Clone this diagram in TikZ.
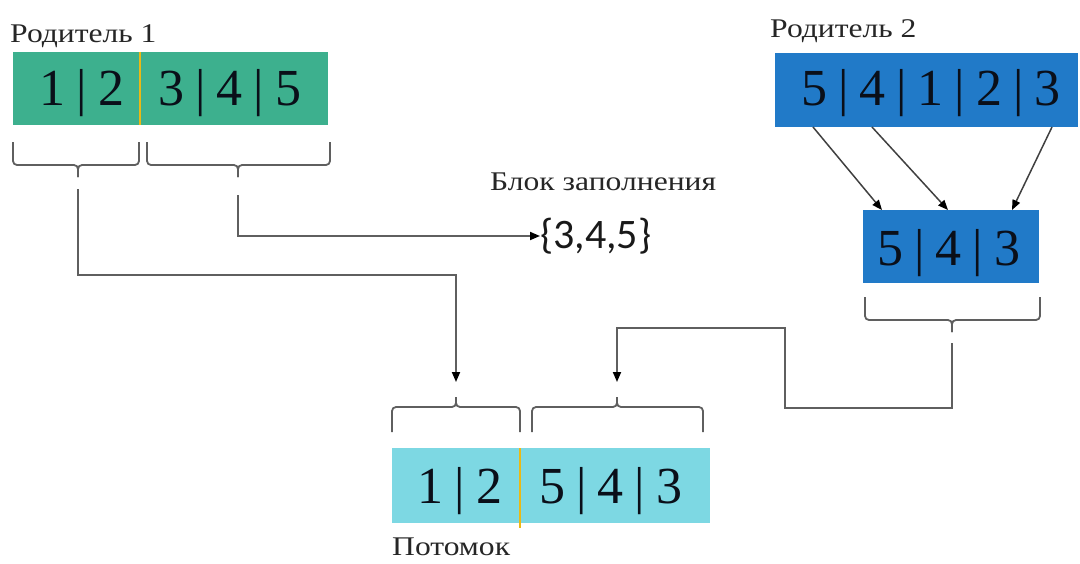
\documentclass[tikz,border=0pt]{standalone}
\usepackage{fontspec}
\setmainfont{Liberation Serif}
\newfontfamily\calib{Carlito}
\newfontfamily\widefont[FakeStretch=1.17]{Liberation Serif}
\usetikzlibrary{arrows.meta}
\definecolor{pgreen}{RGB}{61,176,142}
\definecolor{pblue}{RGB}{33,122,200}
\definecolor{pcyan}{RGB}{125,216,227}
\definecolor{pyellow}{RGB}{235,185,20}
\definecolor{lgray}{RGB}{95,95,95}
\definecolor{dtext}{RGB}{10,15,25}
\newcommand\sep{\hspace{0.21em}|\hspace{0.21em}}
\begin{document}
\begin{tikzpicture}[x=1pt,y=-1pt,
  boxnode/.style={draw=none, inner sep=0pt, outer sep=0pt},
  digits/.style={anchor=base, inner sep=0pt, text=dtext, font=\fontsize{52}{60}\selectfont},
  lbl/.style={anchor=base west, inner sep=0pt, text=black!85, font=\widefont\fontsize{27}{30}\selectfont},
  divider/.style={draw=pyellow, line width=2.5pt},
  brc/.style={draw=lgray, line width=1.8pt, rounded corners=4pt},
  conn/.style={draw=lgray, line width=1.8pt, -{Triangle[length=10pt,width=8pt,color=black]}},
  diag/.style={draw=black!75, line width=1.5pt, -{Triangle[length=10pt,width=8pt,color=black]}}]
\useasboundingbox (0,0) rectangle (1080,563);

% boxes
\node[boxnode, fill=pgreen, minimum width=315pt, minimum height=73pt] (p1) at (170.5,88.5) {};
\node[boxnode, fill=pblue, minimum width=303pt, minimum height=74pt] (p2) at (926.5,90) {};
\node[boxnode, fill=pblue, minimum width=176pt, minimum height=73pt] (c) at (951,246.5) {};
\node[boxnode, fill=pcyan, minimum width=318pt, minimum height=75pt] (o) at (551,485.5) {};

% dividers
\draw[divider] (140,52) -- (140,125);
\draw[divider] (520,448) -- (520,528);

% digits
\node[digits] (p1a) at (82,105) {1\sep 2};
\node[digits] (p1b) at (230,105) {3\sep 4\sep 5};
\node[digits] (p2t) at (931,105) {5\sep 4\sep 1\sep 2\sep 3};
\node[digits] (ct) at (949,265) {5\sep 4\sep 3};
\node[digits] (oa) at (460,503) {1\sep 2};
\node[digits] (ob) at (611,503) {5\sep 4\sep 3};

% labels
\node[lbl] (l1) at (10,42) {Родитель 1};
\node[lbl] (l2) at (770,37) {Родитель 2};
\node[lbl] (l3) at (490,190) {Блок заполнения};
\node[lbl] (l4) at (392,555) {Потомок};
\node[anchor=west, inner sep=0pt, font=\calib\fontsize{42}{48}\selectfont, text=black!90] (fill) at (540,236) {\{3,4,5\}};

% braces
\draw[brc] (13,142) -- (13,165) -- (78,165) -- (78,177);
\draw[brc] (139,142) -- (139,165) -- (78,165) -- (78,177);
\draw[brc] (147,142) -- (147,165) -- (238,165) -- (238,177);
\draw[brc] (330,142) -- (330,165) -- (238,165) -- (238,177);
\draw[brc] (865,297) -- (865,320) -- (952,320) -- (952,332);
\draw[brc] (1040,297) -- (1040,320) -- (952,320) -- (952,332);
\draw[brc] (392,432) -- (392,407) -- (456,407) -- (456,397);
\draw[brc] (520,432) -- (520,407) -- (456,407) -- (456,397);
\draw[brc] (532,432) -- (532,407) -- (617,407) -- (617,397);
\draw[brc] (703,432) -- (703,407) -- (617,407) -- (617,397);

% connector coordinates
\coordinate (t1) at (78,189);
\coordinate (t2) at (238,195);
\coordinate (t3) at (952,343);
\coordinate (i1) at (456,382);
\coordinate (i2) at (617,382);
\coordinate (s1) at (813,127);
\coordinate (s2) at (872,127);
\coordinate (s3) at (1052,127);
\coordinate (e1) at (882,210);
\coordinate (e2) at (948,210);
\coordinate (e3) at (1012,210);

% connectors
\draw[conn] (t2) |- (fill.west);
\draw[conn] (t1) -- ++(0,86) -| (i1);
\draw[conn] (t3) -- ++(0,65) -- ++(-167,0) -- ++(0,-80) -| (i2);
\draw[diag] (s1) -- (e1);
\draw[diag] (s2) -- (e2);
\draw[diag] (s3) -- (e3);
\end{tikzpicture}
\end{document}
